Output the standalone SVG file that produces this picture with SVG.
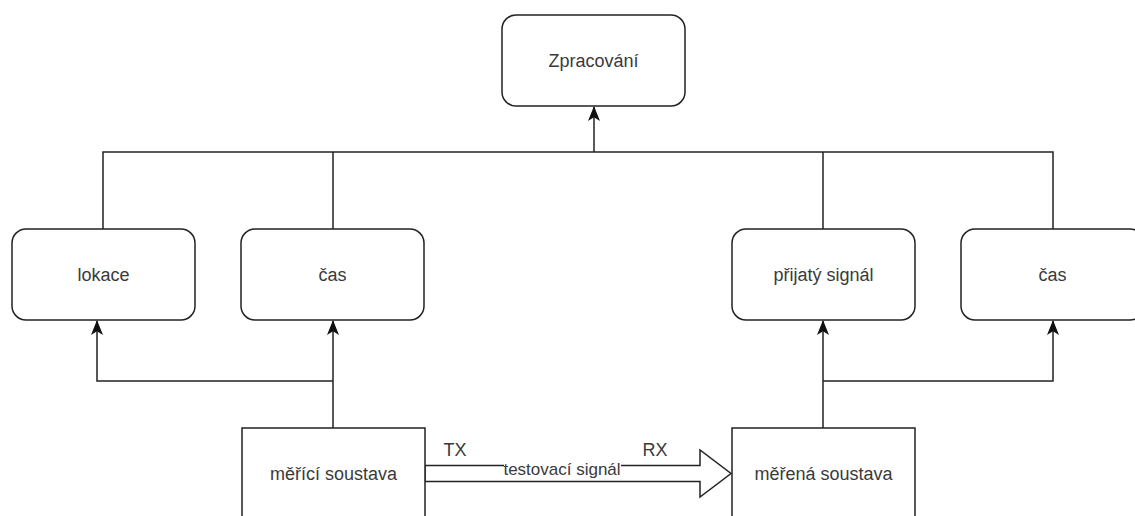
<svg xmlns="http://www.w3.org/2000/svg" width="1135" height="516" viewBox="0 0 1135 516">
<style>
.box{fill:#fff;stroke:#222;stroke-width:1.5}
.lbl{font-family:"Liberation Sans",Arial,sans-serif;font-size:18px;fill:#3a3a3a;text-anchor:middle;dominant-baseline:central}
.edge{fill:none;stroke:#222;stroke-width:1.5}
</style>
<defs>
<marker id="arr" markerUnits="userSpaceOnUse" markerWidth="15" markerHeight="13" viewBox="0 0 15 13" refX="14" refY="6.5" orient="auto">
<path d="M15,6.5 L0,0.5 L3.8,6.5 L0,12.5 Z" fill="#111"/>
</marker>
</defs>
<rect width="1135" height="516" fill="#fff"/>
<g id="connectors">
<path class="edge" d="M103,229 V152 H1053 V229"/>
<path class="edge" d="M333,229 V152"/>
<path class="edge" d="M823,229 V152"/>
<path class="edge" d="M594,152 V107" marker-end="url(#arr)"/>
<path class="edge" d="M333,428 V321" marker-end="url(#arr)"/>
<path class="edge" d="M333,381 H97 V321" marker-end="url(#arr)"/>
<path class="edge" d="M823,428 V321" marker-end="url(#arr)"/>
<path class="edge" d="M823,381 H1053 V321" marker-end="url(#arr)"/>
<polygon id="signal-arrow" points="425,465.5 700,465.5 700,450 731,473.5 700,497 700,481.5 425,481.5" fill="#fff" stroke="#222" stroke-width="1.5"/>
<rect x="504" y="461" width="117" height="16" fill="#fff"/>
<text class="lbl" x="562" y="469" style="font-size:17px">testovací signál</text>
<text class="lbl" x="455" y="450">TX</text>
<text class="lbl" x="655" y="450">RX</text>
</g>
<g id="zpracovani">
<rect class="box" x="502" y="15" width="183" height="91" rx="14"/>
<text class="lbl" x="593.5" y="60.5">Zpracování</text>
</g>
<g id="lokace">
<rect class="box" x="12" y="229" width="183" height="91" rx="14"/>
<text class="lbl" x="103.5" y="274.5">lokace</text>
</g>
<g id="cas1">
<rect class="box" x="241" y="229" width="183" height="91" rx="14"/>
<text class="lbl" x="332.5" y="274.5">čas</text>
</g>
<g id="prijaty">
<rect class="box" x="732" y="229" width="183" height="91" rx="14"/>
<text class="lbl" x="823.5" y="274.5">přijatý signál</text>
</g>
<g id="cas2">
<rect class="box" x="961" y="229" width="183" height="91" rx="14"/>
<text class="lbl" x="1052.5" y="274.5">čas</text>
</g>
<g id="merici">
<rect class="box" x="242" y="428" width="183" height="91"/>
<text class="lbl" x="333.5" y="473.5">měřící soustava</text>
</g>
<g id="merena">
<rect class="box" x="732" y="428" width="183" height="91"/>
<text class="lbl" x="823.5" y="473.5">měřená soustava</text>
</g>
</svg>
